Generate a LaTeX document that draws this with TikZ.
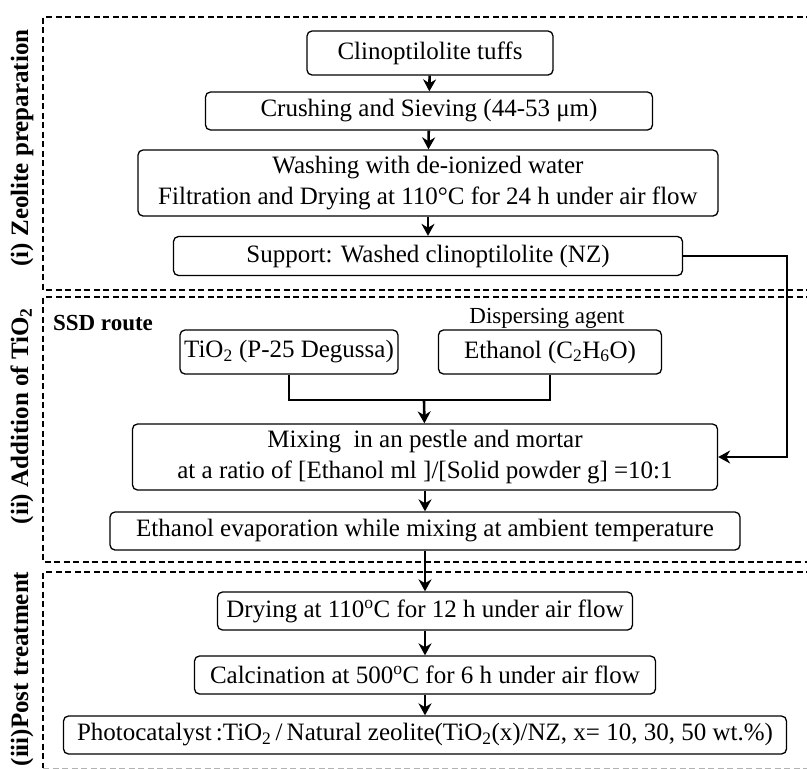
\documentclass[tikz,border=0pt]{standalone}
\usepackage{fontspec}
\setmainfont{Liberation Serif}
\usetikzlibrary{arrows.meta,positioning}

\begin{document}
\begin{tikzpicture}[x=1pt,y=-1pt,
  procbox/.style={draw,rounded corners=5pt,line width=1.3pt,inner sep=0pt,align=center,
    font=\fontsize{25}{31}\selectfont},
  zone/.style={line width=2pt,dash pattern=on 6pt off 3.5pt},
  sidelab/.style={rotate=90,font=\fontsize{25}{30}\selectfont\bfseries},
  flow/.style={-{Stealth[length=12pt,width=13pt]},line width=2.6pt},
  link/.style={line width=2.2pt}]
  \useasboundingbox (0,0) rectangle (807,769);
  \clip (0,0) rectangle (807,769);

  % zones
  \draw[zone] (812,17) -- (43,17) -- (43,290) -- (812,290);
  \draw[zone] (812,297) -- (43,297) -- (43,562) -- (812,562);
  \draw[zone] (812,572) -- (43,572) -- (43,768);
  \draw[gray!60,line width=1pt,dash pattern=on 6pt off 3.5pt] (43,768) -- (812,768);

  \node[sidelab] (lab1) at (22,148) {(i) Zeolite preparation};
  \node[sidelab] (lab2) at (22,416) {(ii) Addition of TiO\textsubscript{2}};
  \node[sidelab] (lab3) at (22,669) {(iii)Post treatment};

  % (i)
  \node[procbox,minimum width=246,minimum height=44] (clino) at (430,53) {Clinoptilolite tuffs};
  \node[procbox,minimum width=447,minimum height=38] (crush) at (429,111) {Crushing and Sieving (44-53 μm)};
  \node[procbox,minimum width=580,minimum height=66] (wash) at (428,183)
    {Washing with de-ionized water\\Filtration and Drying at 110°C for 24 h under air flow};
  \node[procbox,minimum width=509,minimum height=39] (supp) at (428,256) {Support: Washed clinoptilolite (NZ)};

  % (ii)
  \node[font=\fontsize{23}{28}\selectfont\bfseries] (ssd) at (103,323) {SSD route};
  \node[procbox,minimum width=218,minimum height=44] (tio) at (289,352) {TiO\textsubscript{2} (P-25 Degussa)};
  \node[procbox,minimum width=223,minimum height=44] (eth) at (550,352) {Ethanol (C\textsubscript{2}H\textsubscript{6}O)};
  \node[font=\fontsize{23}{28}\selectfont] (disp) at (547,318) {Dispersing agent};
  \node[procbox,minimum width=585,minimum height=66] (mix) at (425,457)
    {Mixing\ \ in an pestle and mortar\\at a ratio of [Ethanol ml ]/[Solid powder g] =10:1};
  \node[procbox,minimum width=630,minimum height=38] (evap) at (425,531) {Ethanol evaporation while mixing at ambient temperature};

  % (iii)
  \node[procbox,minimum width=415,minimum height=38] (dry) at (425,611) {Drying at 110\textsuperscript{o}C for 12 h under air flow};
  \node[procbox,minimum width=461,minimum height=38] (calc) at (425,675) {Calcination at 500\textsuperscript{o}C for 6 h under air flow};
  \node[procbox,minimum width=723,minimum height=38] (photo) at (425,735)
    {Photocatalyst\,:TiO\textsubscript{2}\,/\,Natural zeolite(TiO\textsubscript{2}(x)/NZ, x=\ 10, 30, 50 wt.\%)};

  \coordinate (join) at (424,400);

  \path[flow]
    (clino) edge (crush)
    (crush) edge (wash)
    (wash) edge (supp)
    (join) edge (mix)
    (mix) edge (evap)
    (evap) edge (dry)
    (dry) edge (calc)
    (calc) edge (photo);
  \draw[link] (tio.south) |- (join) -| (eth.south);
  \draw[flow] (supp.east) -- ++(104,0) |- (mix.east);
\end{tikzpicture}
\end{document}
